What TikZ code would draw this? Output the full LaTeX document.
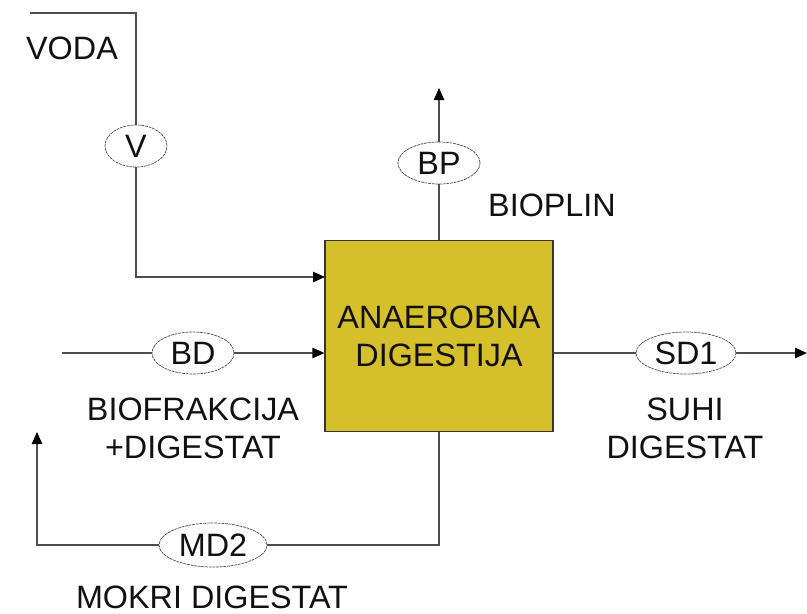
\documentclass[tikz,border=0pt]{standalone}
\usepackage{fontspec}
\setmainfont{Liberation Sans}
\usetikzlibrary{arrows.meta,positioning,shapes.geometric}
\definecolor{DigOlive}{HTML}{D5BF2A}
\definecolor{DigInk}{HTML}{111111}
\definecolor{DigLine}{HTML}{4D4D4D}

\begin{document}
\begin{tikzpicture}[x=0.025cm, y=-0.025cm,
    every node/.style={font=\fontsize{23}{27}\selectfont, text=DigInk},
    reactor/.style={draw=DigInk!85, fill=DigOlive, line width=0.8pt,
      minimum width=5.7cm, minimum height=4.78cm, align=center},
    meter/.style={ellipse, draw=DigLine, dash pattern=on 2pt off 0.6pt,
      line width=0.5pt, fill=white, inner sep=0pt,
      minimum width=2.05cm, minimum height=1.05cm},
    tag/.style={align=center},
    pipe/.style={line width=0.9pt, draw=DigLine},
    flow/.style={pipe, -{Triangle[length=3mm, width=2.6mm, color=black]}}
  ]
    \useasboundingbox (0,0) rectangle (807,613);

    \node[reactor] (reactor) at (439,336) {ANAEROBNA\\DIGESTIJA};

    \node[meter, minimum width=1.55cm] (v) at (136,146) {V};
    \node[meter] (bp) at (439,163) {BP};
    \node[meter] (bd) at (193,353) {BD};
    \node[meter, minimum width=2.5cm] (sd1) at (686,353) {SD1};
    \node[meter, minimum width=2.7cm, minimum height=1.1cm] (md2) at (213,545) {MD2};

    \node[tag] (voda) at (72,48) {VODA};
    \node[tag] (bioplin) at (552,205) {BIOPLIN};
    \node[tag] (biofr) at (193,428) {BIOFRAKCIJA\\+DIGESTAT};
    \node[tag] (suhi) at (685,428) {SUHI\\DIGESTAT};
    \node[tag] (mokri) at (212,597) {MOKRI DIGESTAT};

    \coordinate (vodaIn) at (30,13);
    \coordinate (vIn) at (325,277);
    \coordinate (bdIn) at (62,353);
    \coordinate (bpOut) at (439,88);
    \coordinate (sdOut) at (807,353);
    \coordinate (mdOut) at (37,432);

    \draw[pipe] (vodaIn) -| (v);
    \draw[flow] (v) |- (vIn);
    \draw[pipe] (bdIn) -- (bd);
    \draw[flow] (bd) -- (bd -| reactor.west);
    \draw[pipe] (reactor.north) -- (bp);
    \draw[flow] (bp) -- (bpOut);
    \draw[pipe] (reactor.east |- sd1) -- (sd1);
    \draw[flow] (sd1) -- (sdOut);
    \draw[pipe] (reactor.south) |- (md2);
    \draw[flow] (md2) -| (mdOut);
  \end{tikzpicture}
\end{document}
